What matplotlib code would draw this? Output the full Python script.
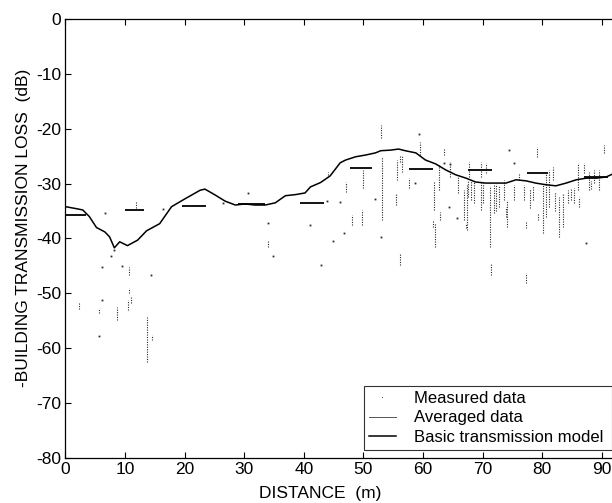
import matplotlib.pyplot as plt
from matplotlib.lines import Line2D

plt.rcParams['font.family'] = ['Liberation Sans', 'DejaVu Sans']
plt.rcParams['axes.unicode_minus'] = False

# basic transmission model (solid curve)
model_x = [0, 2, 2.9, 4, 5.2, 6.6, 7.4, 8.2, 9.1, 10.4, 12.1, 13.6, 15.8, 17.8,
           20, 22.6, 23.4, 25, 26.8, 28.5, 30.1, 31.8, 33.5, 35.2, 36.9, 38.6,
           40.2, 41.1, 42.8, 44.4, 46.1, 47, 48.7, 50.3, 52, 52.9, 54.5, 55.9,
           57, 58.8, 60.4, 62.1, 63.8, 65.5, 67.2, 68.8, 70.5, 72.2, 73.9, 75.6,
           77.3, 78.9, 80.6, 82.3, 84, 85.7, 87.4, 89.1, 90.7, 91.9]
model_y = [-34.2, -34.6, -34.8, -36, -38, -38.8, -39.7, -41.7, -40.6, -41.3,
           -40.3, -38.6, -37.3, -34.2, -32.8, -31.2, -31, -32, -33.2, -33.9,
           -33.7, -33.9, -33.9, -33.5, -32.2, -32, -31.7, -30.6, -29.8, -28.6,
           -26.2, -25.7, -25.1, -24.8, -24.4, -24, -23.9, -23.7, -24, -24.4,
           -25.7, -26.4, -27.5, -28.4, -29, -29.7, -29.9, -29.9, -29.9, -29.3,
           -29.5, -29.9, -30.2, -30.4, -29.9, -29.3, -29, -29, -28.8, -28.2]

# averaged data (short horizontal segments)
avg_start = [0, 10, 19.5, 29, 39.4, 47.7, 57.6, 67.5, 77.5, 87]
avg_end = [3.5, 13.2, 23.5, 33.5, 43.3, 51.5, 61.6, 71.5, 81, 91]
avg_level = [-35.8, -34.8, -34.1, -33.8, -33.5, -27.2, -27.4, -27.5, -28.1, -28.8]

# measured data: vertical runs of samples (x, top, bottom)
streak_x = [2.2, 5.7, 8.6, 10.6, 10.5, 11.0, 13.6, 14.6, 11.8, 34.0,
            44.1, 47.1, 48.1, 49.8, 50.0, 53.1, 52.9, 55.5, 55.7, 56.2, 56.4,
            57.7, 59.5, 61.6, 62.0, 61.8, 62.8, 62.6, 63.5, 64.5, 65.8, 66.8,
            67.2, 67.5, 67.3, 67.7, 68.5, 69.7, 69.7, 70.5, 71.2, 71.4, 71.9,
            72.7, 73.9, 73.6, 74.0, 75.3, 76.1, 77.0, 77.3, 77.3, 79.1, 79.3,
            80.1, 80.6, 81.1, 81.8, 82.8, 83.5, 84.3, 85.4, 86.0, 86.2, 87.0,
            87.9, 88.7, 89.6, 90.4, 10.6, 56.2,
            68.0, 70.0, 72.2, 78.0, 78.5, 82.2, 84.8, 88.2]
streak_top = [-51.6, -52.7, -52.5, -45.2, -51.2, -50.7, -54.3, -57.6, -33.3, -40.3,
              -27.9, -29.7, -35.7, -34.8, -27.5, -25.1, -19.3, -31.7, -25.7, -42.6, -24.8,
              -29.0, -22.4, -36.6, -37.2, -29.7, -35.2, -26.6, -23.5, -26.0, -28.8, -31.2,
              -37.2, -29.3, -30.2, -26.0, -29.7, -29.7, -26.0, -26.2, -30.6, -44.5, -30.2,
              -30.2, -34.3, -29.3, -33.0, -30.2, -28.1, -30.2, -37.0, -46.3, -23.3, -35.4,
              -30.2, -28.1, -27.5, -27.0, -32.4, -31.7, -31.2, -30.8, -26.2, -32.4, -26.2,
              -27.9, -27.5, -27.5, -23.0, -49.0, -24.8,
              -29.5, -29.8, -30.0, -31.0, -30.5, -31.5, -31.0, -29.5]
streak_bot = [-52.8, -53.6, -54.9, -46.6, -53.0, -51.8, -62.5, -58.5, -34.4, -41.5,
              -28.4, -31.5, -37.5, -37.5, -30.8, -36.6, -21.7, -33.9, -29.3, -44.8, -27.9,
              -30.8, -24.8, -37.9, -41.5, -34.8, -36.6, -31.2, -24.8, -28.8, -31.7, -36.6,
              -38.1, -32.4, -38.4, -28.8, -33.5, -34.8, -28.8, -28.1, -41.5, -46.6, -35.4,
              -34.3, -36.0, -33.0, -37.9, -33.0, -29.3, -33.0, -38.1, -48.1, -25.1, -36.6,
              -39.0, -36.0, -34.3, -29.3, -39.7, -37.9, -33.5, -33.5, -31.2, -34.3, -28.1,
              -31.2, -29.9, -31.2, -24.4, -50.0, -26.0,
              -33.0, -33.5, -35.0, -34.5, -33.0, -35.0, -33.0, -31.0]

# measured data: isolated samples
dot_x = [5.7, 6.2, 6.2, 7.7, 8.2, 9.4, 14.3, 6.7, 16.3, 26.4, 30.6, 33.9, 34.9,
         41.1, 42.8, 43.8, 44.9, 46.1, 46.7, 52.0, 53.0, 58.6, 59.3, 64.3,
         65.7, 74.4, 75.3, 87.4, 63.5, 64.5]
dot_y = [-57.8, -51.2, -45.2, -43.2, -42.1, -45.0, -46.6, -35.4, -34.6, -33.5,
         -31.7, -37.2, -43.2, -37.6, -44.8, -33.2, -40.5, -33.3, -39.0, -32.8,
         -39.7, -29.9, -21.0, -34.3, -36.3, -23.9, -26.2, -40.8, -26.2, -26.5]

fig = plt.figure(figsize=(6.12, 5.03), dpi=100)
ax = fig.add_axes([0.107, 0.0895, 0.893, 0.8727])

ax.vlines(streak_x, streak_bot, streak_top, colors='#2a2a2a', linewidth=0.8,
          linestyles=(0, (1, 1.2)))
ax.plot(dot_x, dot_y, linestyle='none', marker='s', markersize=1.3,
        color='#2a2a2a', markeredgewidth=0)
ax.hlines(avg_level, avg_start, avg_end, colors='black', linewidth=1.3)
ax.plot(model_x, model_y, color='black', linewidth=1.1)

ax.set_xlim(0, 91.7)
ax.set_ylim(-80, 0)
ax.set_xticks(range(0, 100, 10))
ax.set_yticks(range(-80, 1, 10))
ax.tick_params(direction='in', length=4, width=0.8, labelsize=12.5, pad=3,
               top=True, bottom=True, left=True, right=False)
ax.spines['right'].set_visible(False)
for s in ['left', 'top', 'bottom']:
    ax.spines[s].set_linewidth(0.9)

ax.set_xlabel('DISTANCE  (m)', fontsize=12.5)
ax.set_ylabel('-BUILDING TRANSMISSION LOSS  (dB)', fontsize=12.5)
ax.xaxis.set_label_coords(0.466, -0.064)
ax.yaxis.set_label_coords(-0.063, 0.524)

handles = [
    Line2D([], [], linestyle='none', marker='s', markersize=0.8,
           color='#666666', markeredgewidth=0),
    Line2D([], [], color='#555555', linewidth=0.7),
    Line2D([], [], color='black', linewidth=1.1),
]
labels = ['Measured data', 'Averaged data', 'Basic transmission model']
leg = ax.legend(handles, labels, loc='lower left',
                bbox_to_anchor=(0.546, 0.018, 0.454, 0.153), mode='expand',
                fontsize=12, frameon=True, fancybox=False, handlelength=1.6,
                handletextpad=1.1, borderaxespad=0, labelspacing=0.28,
                borderpad=0.3)
leg.get_frame().set_edgecolor('black')
leg.get_frame().set_linewidth(0.8)

fig.savefig('out.png', dpi=100)
